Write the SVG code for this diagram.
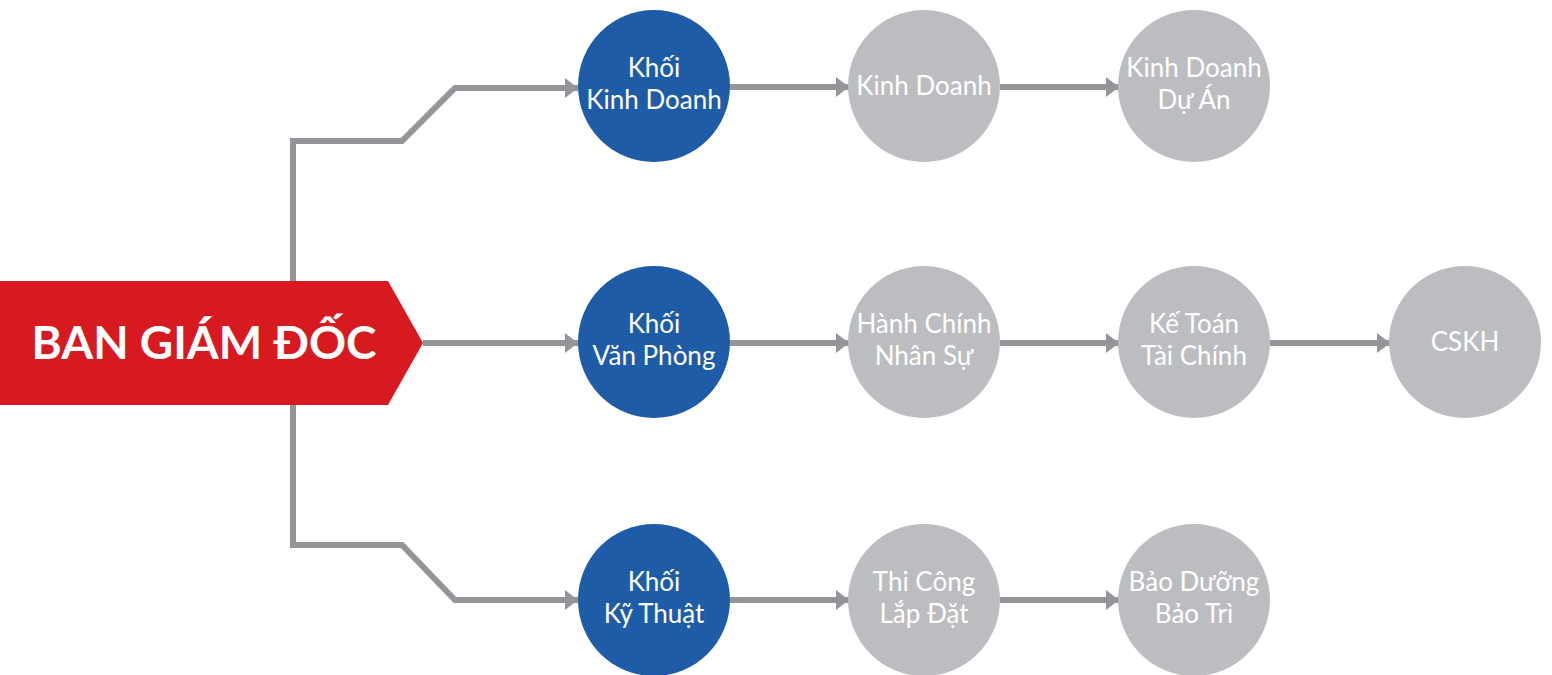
<svg xmlns="http://www.w3.org/2000/svg" width="1552" height="675" viewBox="0 0 1552 675">
  <defs>
    <style>
      .conn { fill: none; stroke: #939598; stroke-width: 6; stroke-linejoin: miter; }
      .blue { fill: #1F5CA8; }
      .gray { fill: #BCBDC0; }
      .lbl { font-family: Lato, "Liberation Sans", sans-serif; font-size: 26px; fill: #FFFFFF; text-anchor: middle; }
      .title { font-family: Lato, "Liberation Sans", sans-serif; font-size: 46px; font-weight: bold; fill: #FFFFFF; text-anchor: middle; }
    </style>
    <marker id="arrow" viewBox="0 0 13 20" refX="13" refY="10" markerWidth="13" markerHeight="20" markerUnits="userSpaceOnUse" orient="auto">
      <path d="M0,0 L13,10 L0,20 Z" fill="#939598"/>
    </marker>
  </defs>

  <g id="connectors">
    <path class="conn" d="M293,283 V141 H402 L455,88 H578" marker-end="url(#arrow)"/>
    <path class="conn" d="M423,343 H578" marker-end="url(#arrow)"/>
    <path class="conn" d="M293,403 V545 H402 L455,600 H578" marker-end="url(#arrow)"/>
    <path class="conn" d="M730,87 H849" marker-end="url(#arrow)"/>
    <path class="conn" d="M1000,87 H1119" marker-end="url(#arrow)"/>
    <path class="conn" d="M730,343 H849" marker-end="url(#arrow)"/>
    <path class="conn" d="M1000,343 H1119" marker-end="url(#arrow)"/>
    <path class="conn" d="M1270,343 H1390" marker-end="url(#arrow)"/>
    <path class="conn" d="M730,600 H849" marker-end="url(#arrow)"/>
    <path class="conn" d="M1000,600 H1119" marker-end="url(#arrow)"/>
  </g>

  <g id="ban-giam-doc">
    <path d="M0,281 H388 L423,343 L388,405 H0 Z" fill="#D71920"/>
    <text class="title" x="204" y="359">BAN GIÁM ĐỐC</text>
  </g>

  <g id="khoi-kinh-doanh">
    <circle class="blue" cx="654" cy="86" r="76"/>
    <text class="lbl" x="654" y="77">Khối</text>
    <text class="lbl" x="654" y="109">Kinh Doanh</text>
  </g>
  <g id="kinh-doanh">
    <circle class="gray" cx="924" cy="86" r="76"/>
    <text class="lbl" x="924" y="95">Kinh Doanh</text>
  </g>
  <g id="kinh-doanh-du-an">
    <circle class="gray" cx="1194" cy="86" r="76"/>
    <text class="lbl" x="1194" y="77">Kinh Doanh</text>
    <text class="lbl" x="1194" y="109">Dự Án</text>
  </g>

  <g id="khoi-van-phong">
    <circle class="blue" cx="654" cy="342" r="76"/>
    <text class="lbl" x="654" y="333">Khối</text>
    <text class="lbl" x="654" y="365">Văn Phòng</text>
  </g>
  <g id="hanh-chinh-nhan-su">
    <circle class="gray" cx="924" cy="342" r="76"/>
    <text class="lbl" x="924" y="333">Hành Chính</text>
    <text class="lbl" x="924" y="365">Nhân Sự</text>
  </g>
  <g id="ke-toan-tai-chinh">
    <circle class="gray" cx="1194" cy="342" r="76"/>
    <text class="lbl" x="1194" y="333">Kế Toán</text>
    <text class="lbl" x="1194" y="365">Tài Chính</text>
  </g>
  <g id="cskh">
    <circle class="gray" cx="1465" cy="342" r="76"/>
    <text class="lbl" x="1465" y="351">CSKH</text>
  </g>

  <g id="khoi-ky-thuat">
    <circle class="blue" cx="654" cy="600" r="76"/>
    <text class="lbl" x="654" y="591">Khối</text>
    <text class="lbl" x="654" y="623">Kỹ Thuật</text>
  </g>
  <g id="thi-cong-lap-dat">
    <circle class="gray" cx="924" cy="600" r="76"/>
    <text class="lbl" x="924" y="591">Thi Công</text>
    <text class="lbl" x="924" y="623">Lắp Đặt</text>
  </g>
  <g id="bao-duong-bao-tri">
    <circle class="gray" cx="1194" cy="600" r="76"/>
    <text class="lbl" x="1194" y="591">Bảo Dưỡng</text>
    <text class="lbl" x="1194" y="623">Bảo Trì</text>
  </g>
</svg>
